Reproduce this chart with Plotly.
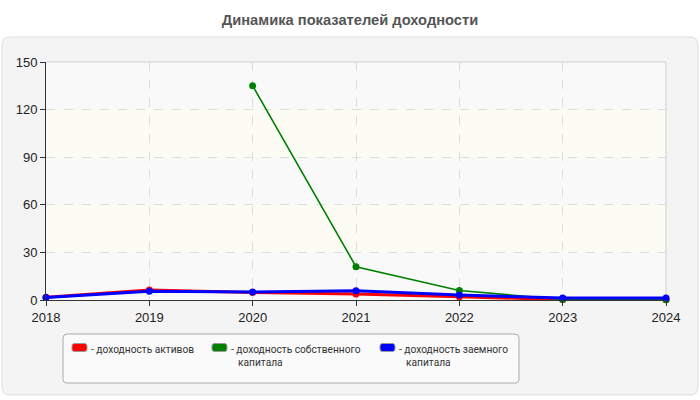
import plotly.graph_objects as go

years = [2018, 2019, 2020, 2021, 2022, 2023, 2024]
assets_return = [1.7, 6.3, 4.8, 3.8, 2.0, 0.3, 0.2]
equity_return = [None, None, 135.0, 21.0, 6.0, 0.3, 0.2]
debt_return = [1.5, 5.5, 5.0, 5.8, 3.2, 1.2, 1.2]

legend_lines = [["доходность активов"],
                ["доходность собственного", "капитала"],
                ["доходность заемного", "капитала"]]
colors = ["#ff0000", "#008000", "#0000ff"]
y_ticks = [0, 30, 60, 90, 120, 150]

# plot area in pixels
L, R, T, B = 46, 666, 62, 300
W, H = R - L, B - T


def px_x(p):
    return (p - L) / W


def px_y(p):
    return (B - p) / H


def rounded(x0, y0, x1, y1, r):
    def P(x, y):
        return f"{px_x(x):.5f},{px_y(y):.5f}"
    return (f"M {P(x0 + r, y0)} L {P(x1 - r, y0)} Q {P(x1, y0)} {P(x1, y0 + r)} "
            f"L {P(x1, y1 - r)} Q {P(x1, y1)} {P(x1 - r, y1)} L {P(x0 + r, y1)} "
            f"Q {P(x0, y1)} {P(x0, y1 - r)} L {P(x0, y0 + r)} Q {P(x0, y0)} {P(x0 + r, y0)} Z")


fig = go.Figure()

series = [assets_return, equity_return, debt_return]
widths = [3, 1.6, 3]
for vals, col, w in zip(series, colors, widths):
    fig.add_trace(go.Scatter(
        x=years, y=vals, mode="lines+markers",
        line=dict(color=col, width=w),
        marker=dict(color=col, size=7),
        showlegend=False, cliponaxis=False, connectgaps=False,
    ))

shapes = [
    dict(type="path", xref="paper", yref="paper", layer="below",
         path=rounded(2, 37, 698, 395, 8), fillcolor="#f4f4f4", line=dict(color="#dddddd", width=1)),
    dict(type="rect", xref="paper", yref="paper", layer="below", x0=0, x1=1, y0=0, y1=1,
         fillcolor="#f9f9f9", line=dict(width=0)),
    dict(type="path", xref="paper", yref="paper", layer="below",
         path=rounded(63, 334, 519, 383, 4), fillcolor="#fafafa", line=dict(color="#aaaaaa", width=1)),
    dict(type="rect", xref="paper", yref="y", layer="below", x0=0, x1=1, y0=90, y1=120,
         fillcolor="#fcfcf5", line=dict(width=0)),
    dict(type="rect", xref="paper", yref="y", layer="below", x0=0, x1=1, y0=30, y1=60,
         fillcolor="#fcfcf5", line=dict(width=0)),
    dict(type="line", xref="paper", yref="paper", layer="above", x0=0, x1=1, y0=1, y1=1,
         line=dict(color="#dddddd", width=1.5)),
    dict(type="line", xref="paper", yref="paper", layer="below", x0=1, x1=1, y0=0, y1=1,
         line=dict(color="#dddddd", width=1.5)),
]

# legend built from swatches + text
LEG_FONT = dict(family="Roboto, Liberation Sans, sans-serif", size=10.2, color="#333")
swatch_x = [72, 212, 380]
annotations = []
for sx, col, lines in zip(swatch_x, colors, legend_lines):
    shapes.append(dict(type="path", xref="paper", yref="paper", layer="above",
                       path=rounded(sx, 343.5, sx + 15, 351.5, 2.5), fillcolor=col,
                       line=dict(color="#999999", width=1)))
    annotations.append(dict(text="- " + lines[0], x=px_x(sx + 17), y=px_y(349), xref="paper",
                            yref="paper", xanchor="left", yanchor="middle", showarrow=False,
                            font=LEG_FONT))
    for i, ln in enumerate(lines[1:], start=1):
        annotations.append(dict(text=ln, x=px_x(sx + 23.5), y=px_y(349 + 13.5 * i), xref="paper",
                                yref="paper", xanchor="left", yanchor="middle", showarrow=False,
                                font=LEG_FONT))

fig.update_layout(
    width=700, height=400,
    margin=dict(l=L, r=700 - R, t=T, b=400 - B),
    paper_bgcolor="#ffffff",
    plot_bgcolor="#f9f9f9",
    font=dict(family="Liberation Sans, Arial, sans-serif", size=12, color="#222"),
    title=dict(text="<b>Динамика показателей доходности</b>", x=0.5, xref="container",
               xanchor="center", y=1 - 20 / 400, yref="container", yanchor="middle",
               font=dict(size=14.7, color="#555")),
    shapes=shapes,
    annotations=annotations,
    showlegend=False,
    xaxis=dict(range=[2018, 2024], tickmode="array", tickvals=years,
               ticktext=[str(y) for y in years], showgrid=True, gridcolor="#dddddd",
               griddash="dash", showline=True, linecolor="#333", linewidth=1,
               ticks="outside", ticklen=5, tickcolor="#333", zeroline=False,
               tickfont=dict(size=13, color="#222")),
    yaxis=dict(range=[0, 150], tickmode="array", tickvals=y_ticks, showgrid=True,
               gridcolor="#dddddd", griddash="dash", showline=True, linecolor="#333",
               linewidth=1, ticks="outside", ticklen=5, tickcolor="#333", zeroline=False,
               tickfont=dict(size=13, color="#222")),
)

fig.write_html("out.html", config={"displayModeBar": False},
               post_script="document.body.style.margin='0px';")
